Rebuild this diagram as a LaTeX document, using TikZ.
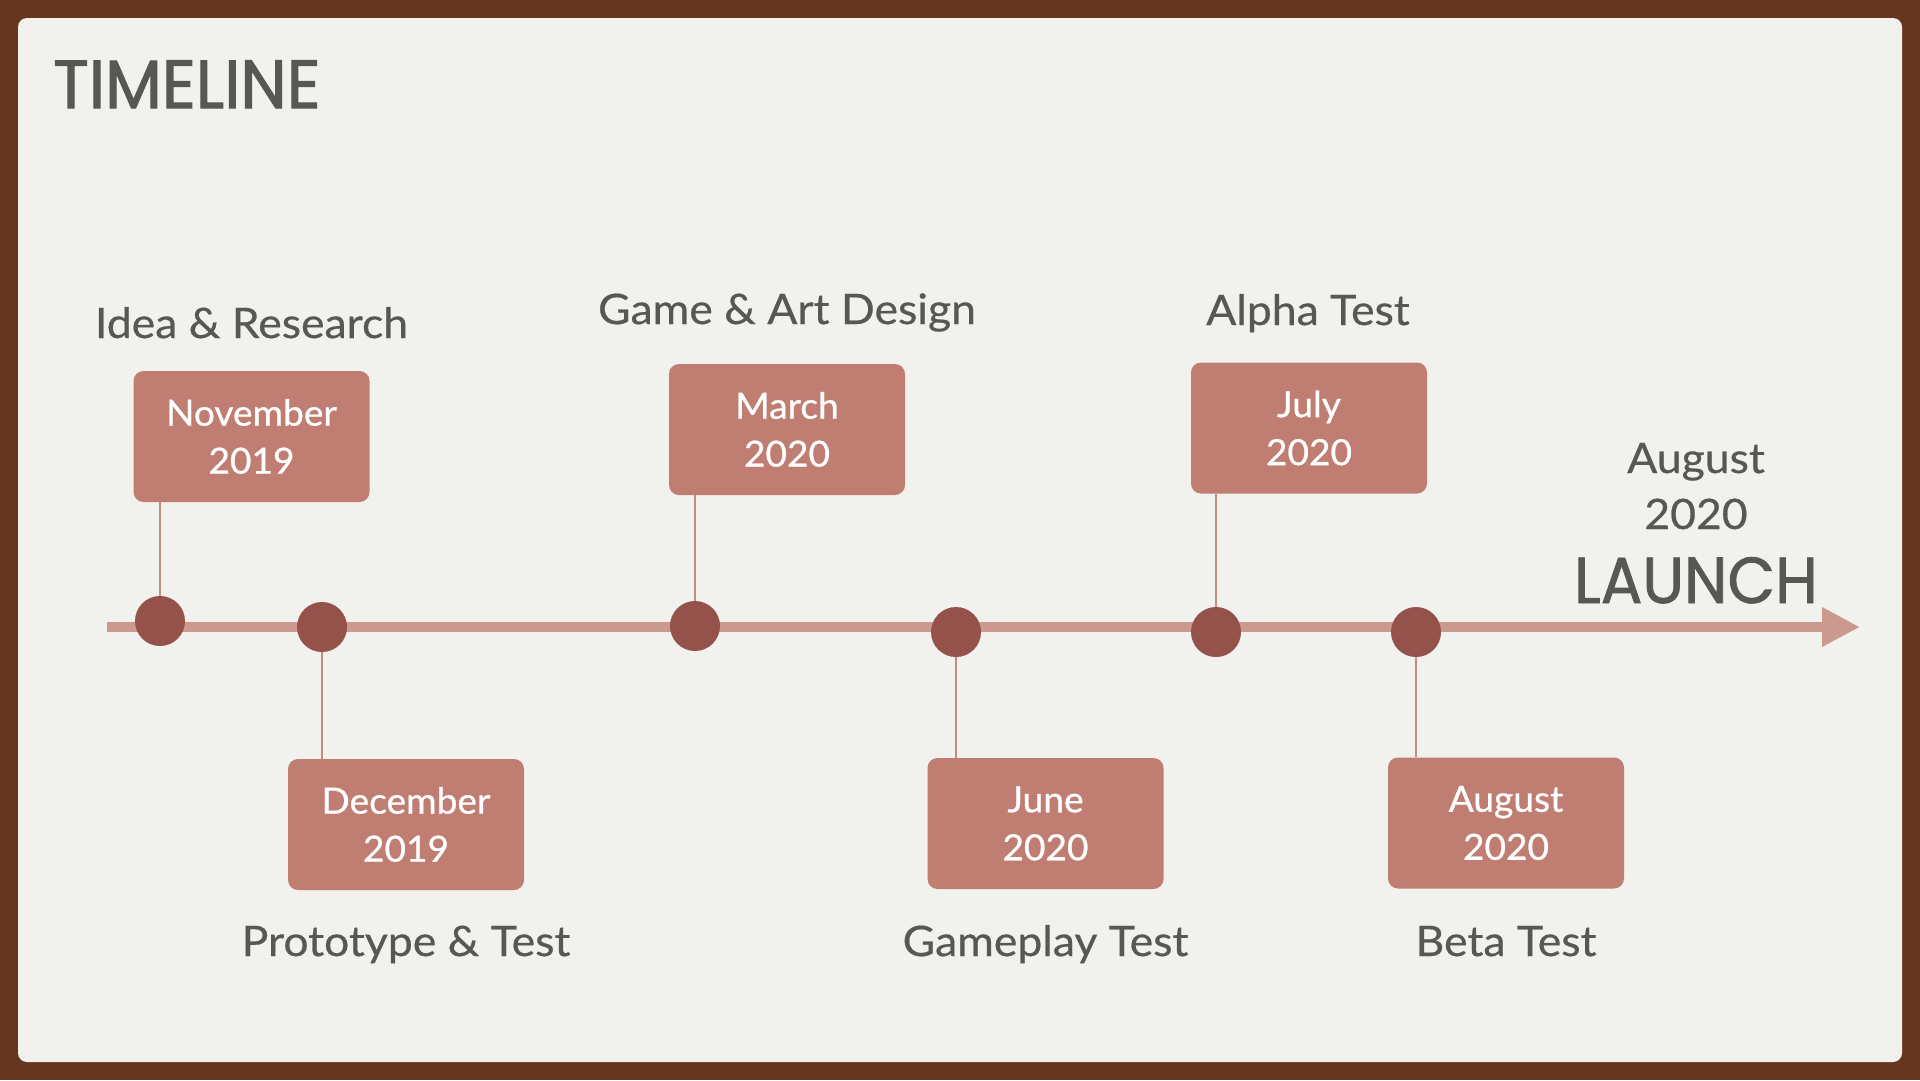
\documentclass[tikz,border=0pt]{standalone}
\usepackage{fontspec}
\setmainfont{Lato}
\newfontfamily\titlefont[FakeStretch=0.97,FakeBold=1.6]{Poppins}
\newfontfamily\launchfont[FakeStretch=0.95,FakeBold=1.2]{Poppins}
\newfontfamily\labelfont[FakeStretch=1.06,FakeBold=0.5]{Lato}
\newfontfamily\boxfont[FakeStretch=1.03,FakeBold=0.7]{Lato}
\usetikzlibrary{arrows.meta}
\definecolor{wood}{HTML}{67361F}
\definecolor{paper}{HTML}{F1F1EE}
\definecolor{boxfill}{HTML}{BF7E71}
\definecolor{dotfill}{HTML}{94524A}
\definecolor{axiscol}{HTML}{CC998E}
\definecolor{linkcol}{HTML}{C48B80}
\definecolor{ink}{HTML}{585752}
\begin{document}
\begin{tikzpicture}[x=1pt,y=-1pt,
  datebox/.style={draw=none,fill=boxfill,rounded corners=10pt,minimum width=236pt,minimum height=131pt,
    inner sep=0pt,align=center,text=white,font=\boxfont\fontsize{36}{48}\selectfont},
  dot/.style={circle,fill=dotfill,minimum size=50pt,inner sep=0pt},
  phase/.style={anchor=base,inner sep=0pt,text=ink,font=\labelfont\fontsize{42}{50}\selectfont},
  link/.style={draw=linkcol,line width=2pt},
  axisline/.style={draw=axiscol,line width=9.5pt,-{Triangle[length=38pt,width=37pt]}}
]
\useasboundingbox (0,0) rectangle (1920,1080);
\fill[wood] (0,0) rectangle (1920,1080);
\fill[paper,rounded corners=9pt] (18,18) rectangle (1902,1062);

\node[anchor=base west,inner sep=0pt,text=ink,font=\titlefont\fontsize{68}{70}\selectfont] (title) at (53,108) {TIMELINE};

% axis
\coordinate (axisstart) at (107,627);
\coordinate (axisend) at (1860,627);
\draw[axisline] (axisstart) -- (axisend);

% dots
\node[dot] (c1) at (160,621) {};
\node[dot] (c2) at (322,627) {};
\node[dot] (c3) at (695,626) {};
\node[dot] (c4) at (956,632) {};
\node[dot] (c5) at (1216,632) {};
\node[dot] (c6) at (1416,632) {};

% boxes
\node[datebox] (nov) at (251.5,436.5) {November\\2019};
\node[datebox] (dec) at (406,824.5) {December\\2019};
\node[datebox] (mar) at (787,429.5) {March\\2020};
\node[datebox] (jun) at (1045.5,823.5) {June\\2020};
\node[datebox] (jul) at (1309,428) {July\\2020};
\node[datebox] (aug) at (1506,823) {August\\2020};

% connectors
\draw[link] (c1 |- nov.south) -- (c1.north);
\draw[link] (c2.south) -- (c2 |- dec.north);
\draw[link] (c3 |- mar.south) -- (c3.north);
\draw[link] (c4.south) -- (c4 |- jun.north);
\draw[link] (c5 |- jul.south) -- (c5.north);
\draw[link] (c6.south) -- (c6 |- aug.north);

% phase labels
\node[phase] (l1) at (251.5,338) {Idea \& Research};
\node[phase] (l2) at (406,956) {Prototype \& Test};
\node[phase] (l3) at (787,324) {Game \& Art Design};
\node[phase] (l4) at (1045.5,956) {Gameplay Test};
\node[phase] (l5) at (1308,325) {Alpha Test};
\node[phase] (l6) at (1506,956) {Beta Test};

% launch
\node[phase] (lm) at (1696,473) {August};
\node[phase] (ly) at (1696,529) {2020};
\node[anchor=base,inner sep=0pt,text=ink,font=\launchfont\fontsize{65}{70}\selectfont] (launch) at (1696,603) {LAUNCH};
\end{tikzpicture}
\end{document}
